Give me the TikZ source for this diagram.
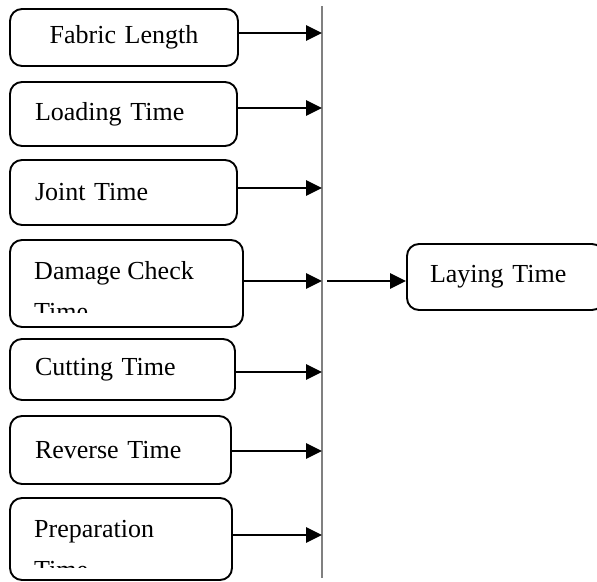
\documentclass[tikz,border=0pt]{standalone}
\usepackage{fontspec}
\setmainfont{Liberation Serif}
\usetikzlibrary{arrows.meta}

\begin{document}
\begin{tikzpicture}[
  x=1pt, y=-1pt,
  box/.style={rectangle, draw, rounded corners=12pt, line width=1.9pt, inner xsep=25pt, align=left},
  link/.style={-{Triangle[length=16pt,width=15pt]}, line width=2.8pt},
  font={\fontsize{26}{41}\selectfont}
]
\useasboundingbox (0,0) rectangle (597,581);

\node[box, align=center, text width=178pt, minimum height=57pt] (fab) at (124,37.5) {Fabric Length};
\node[box, text width=177pt, minimum height=64pt] (load) at (123.5,114) {Loading Time};
\node[box, text width=177pt, minimum height=65pt] (joint) at (123.5,192.5) {Joint Time};
\node[box, text width=183pt, minimum height=87pt] (damage) at (126.5,283.5) {};
\node[box, text width=175pt, minimum height=61pt] (cut) at (122.5,369.5) {Cutting Time};
\node[box, text width=171pt, minimum height=68pt] (rev) at (120.5,450) {Reverse Time};
\node[box, text width=172pt, minimum height=82pt] (prep) at (121,539) {};
\node[box, inner xsep=23pt, text width=151pt, minimum height=66pt] (lay) at (505.5,277) {Laying Time};

% text that runs past the box bottom
\begin{scope}
  \clip (damage.north west) rectangle ([yshift=15pt]damage.south east);
  \node[anchor=base west, align=left, inner sep=0pt] (damagetxt) at ([xshift=25pt,yshift=-81pt]damage.north west) {Damage Check\\Time};
\end{scope}
\begin{scope}
  \clip (prep.north west) rectangle ([yshift=13pt]prep.south east);
  \node[anchor=base west, align=left, inner sep=0pt] (preptxt) at ([xshift=25pt,yshift=-81pt]prep.north west) {Preparation\\Time};
\end{scope}

\coordinate (bartop) at (322,6);
\coordinate (barbot) at (322,578);
\draw[gray, line width=1.2pt] (bartop) -- (barbot);

\draw[link] (fab.east) ++(0,-4.5) coordinate (fabout) -- (fabout -| bartop);
\draw[link] (load.east) ++(0,-6) coordinate (loadout) -- (loadout -| bartop);
\draw[link] (joint.east) ++(0,-4.5) coordinate (jointout) -- (jointout -| bartop);
\draw[link] (damage.east) ++(0,-2.5) coordinate (damageout) -- (damageout -| bartop);
\draw[link] (cut.east) ++(0,2.5) coordinate (cutout) -- (cutout -| bartop);
\draw[link] (rev.east) ++(0,1) coordinate (revout) -- (revout -| bartop);
\draw[link] (prep.east) ++(0,-4) coordinate (prepout) -- (prepout -| bartop);

\coordinate (tap) at (327,281);
\draw[link] (tap) -- (tap -| lay.west);
\end{tikzpicture}
\end{document}
